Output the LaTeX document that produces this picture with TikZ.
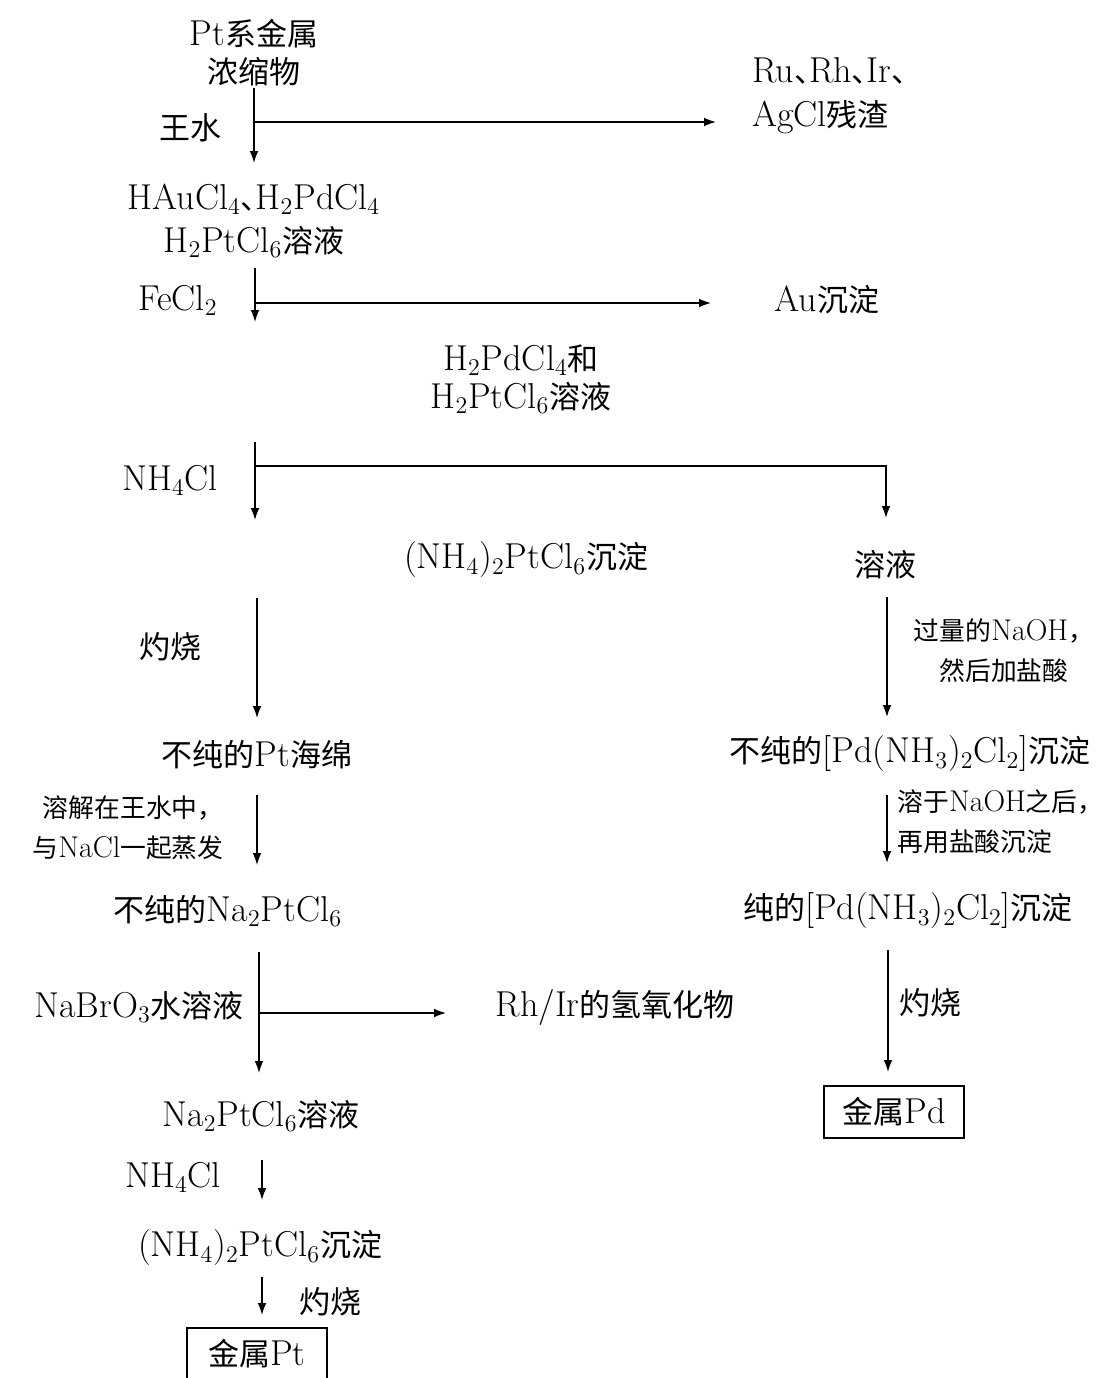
\documentclass[tikz,border=0pt]{standalone}
\usepackage{fontspec}
\newfontfamily\cjk[Scale=0.86]{Noto Sans CJK SC}
\newcommand\zh[1]{{\cjk #1}}
\newcommand\dun{{\cjk 、}\hspace{-0.45em}}
\usetikzlibrary{arrows.meta}
\tikzset{
	txt/.style={inner sep=0pt, align=center, font=\fontsize{18}{19}\selectfont},
	note/.style={inner sep=0pt, font=\fontsize{15}{16}\selectfont},
	arr/.style={line width=0.75pt, -{Latex[length=6pt,width=4.4pt]}},
	ln/.style={line width=0.75pt},
	metal/.style={txt, draw, line width=0.75pt, minimum width=70pt, minimum height=26pt}
}
\begin{document}
\begin{tikzpicture}[x=0.5pt,y=-0.5pt]
			\useasboundingbox (0,0) rectangle (1111,1378);
			
			%Dissolving the concentrate
			\node[txt] (conc) at (254,53) {Pt\zh{系金属}\\\zh{浓缩物}};
			\node[txt] (aqua) at (190,128) {\zh{王水}};
			\node[txt, align=left, anchor=west] (resid) at (752,96) {Ru\dun Rh\dun Ir\dun\\[3pt]AgCl\zh{残渣}};
			\node[txt] (hauc) at (254,221) {HAuCl$_4$\dun H$_2$PdCl$_4$\\[2.5pt]H$_2$PtCl$_6$\zh{溶液}};
			
			%Gold out
			\node[txt] (fecl) at (178,300) {FeCl$_2$};
			\node[txt] (au) at (827,300) {Au\zh{沉淀}};
			\node[txt] (pdpt) at (521,379) {H$_2$PdCl$_4$\zh{和}\\H$_2$PtCl$_6$\zh{溶液}};
			
			%Split Pt / Pd
			\node[txt] (nhcl) at (170,480) {NH$_4$Cl};
			\node[txt] (salt) at (526,560) {(NH$_4$)$_2$PtCl$_6$\zh{沉淀}};
			\node[txt] (soln) at (885,565) {\zh{溶液}};
			
			%Pt line
			\node[txt] (fire) at (170,647) {\zh{灼烧}};
			\node[txt] (sponge) at (257,755) {\zh{不纯的}Pt\zh{海绵}};
			\node[note, align=right, anchor=east] (evap) at (224,828) {\zh{溶解在王水中，}\\[4pt]\zh{与}NaCl\zh{一起蒸发}};
			\node[txt] (rawna) at (228,911) {\zh{不纯的}Na$_2$PtCl$_6$};
			\node[txt] (bro) at (139,1007) {NaBrO$_3$\zh{水溶液}};
			\node[txt] (hydrox) at (615,1007) {Rh/Ir\zh{的氢氧化物}};
			\node[txt] (nasol) at (261,1116) {Na$_2$PtCl$_6$\zh{溶液}};
			\node[txt] (nhcl2) at (173,1177) {NH$_4$Cl};
			\node[txt] (salt2) at (260,1248) {(NH$_4$)$_2$PtCl$_6$\zh{沉淀}};
			\node[txt] (fire3) at (330,1302) {\zh{灼烧}};
			\node[metal] (ptmetal) at (257,1354) {\zh{金属}Pt};
			
			%Pd line
			\node[note, align=center] (naoh) at (1004,651) {\zh{过量的}NaOH\zh{，}\\[4pt]\zh{然后加盐酸}};
			\node[txt] (rawpd) at (910,754) {\zh{不纯的}[Pd(NH$_3$)$_2$Cl$_2$]\zh{沉淀}};
			\node[note, align=left, anchor=west] (redis) at (897,822) {\zh{溶于}NaOH\zh{之后，}\\[4pt]\zh{再用盐酸沉淀}};
			\node[txt] (purepd) at (908,911) {\zh{纯的}[Pd(NH$_3$)$_2$Cl$_2$]\zh{沉淀}};
			\node[txt, anchor=west] (fire2) at (899,1003) {\zh{灼烧}};
			\node[metal] (pdmetal) at (894,1112) {\zh{金属}Pd};
			
			%Ends of the arrows
			\coordinate (s1) at (254,88);  \coordinate (e1) at (254,163);
			\coordinate (j1) at (254,122); \coordinate (r1) at (716,122);
			\coordinate (s2) at (255,268); \coordinate (e2) at (255,322);
			\coordinate (j2) at (255,303); \coordinate (r2) at (711,303);
			\coordinate (s3) at (255,442); \coordinate (e3) at (255,520);
			\coordinate (j3) at (255,466); \coordinate (k3) at (886,466);
			\coordinate (r3) at (886,518);
			\coordinate (s4) at (257,598); \coordinate (e4) at (257,718);
			\coordinate (s5) at (257,795); \coordinate (e5) at (257,865);
			\coordinate (s6) at (259,952); \coordinate (e6) at (259,1073);
			\coordinate (j6) at (259,1013); \coordinate (r6) at (446,1013);
			\coordinate (s7) at (262,1160); \coordinate (e7) at (262,1200);
			\coordinate (s8) at (262,1277); \coordinate (e8) at (262,1315);
			\coordinate (p1) at (887,597); \coordinate (q1) at (887,717);
			\coordinate (p2) at (887,795); \coordinate (q2) at (887,863);
			\coordinate (p3) at (888,950); \coordinate (q3) at (888,1072);
			
			%Left stream
			\draw[arr] (s1) -- (e1);
			\draw[arr] (j1) -- (r1);
			\draw[arr] (s2) -- (e2);
			\draw[arr] (j2) -- (r2);
			\draw[arr] (s3) -- (e3);
			\draw[arr] (j3) -- (k3) -- (r3);
			\draw[arr] (s4) -- (e4);
			\draw[arr] (s5) -- (e5);
			\draw[arr] (s6) -- (e6);
			\draw[arr] (j6) -- (r6);
			\draw[arr] (s7) -- (e7);
			\draw[arr] (s8) -- (e8);
			
			%Right stream
			\draw[arr] (p1) -- (q1);
			\draw[arr] (p2) -- (q2);
			\draw[arr] (p3) -- (q3);
		\end{tikzpicture}
\end{document}
